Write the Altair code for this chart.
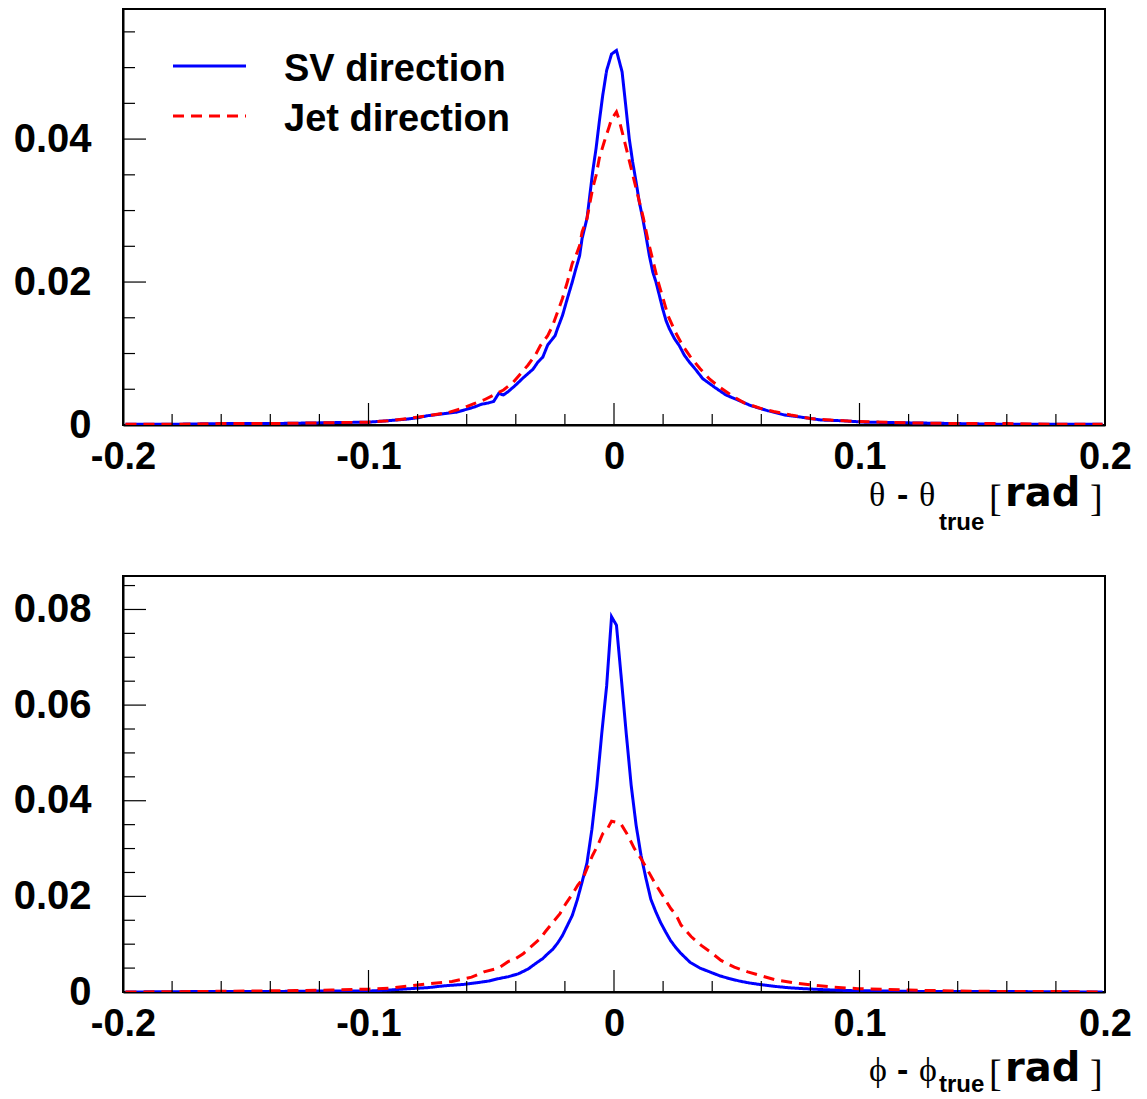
import altair as alt
import pandas as pd

SERIES = ["SV direction", "Jet direction"]
COLORS = ["#0000ff", "#ff0000"]
DASHES = [[1, 0], [11, 7]]

# (x, y), top panel (theta residual)
TOP_SV = [
    (-0.199, 0.0001), (-0.18, 0.0001), (-0.16, 0.0002), (-0.14, 0.0002), (-0.12, 0.0003),
    (-0.1, 0.0004), (-0.092, 0.0006), (-0.085, 0.0008), (-0.080, 0.0010), (-0.076, 0.0013),
    (-0.069, 0.0016), (-0.064, 0.0018), (-0.061, 0.0021), (-0.057, 0.0025), (-0.054, 0.0029),
    (-0.051, 0.0031), (-0.049, 0.0033), (-0.047, 0.0044), (-0.045, 0.0042), (-0.043, 0.0047),
    (-0.040, 0.0056), (-0.037, 0.0066), (-0.033, 0.0078), (-0.031, 0.0088), (-0.029, 0.0095),
    (-0.027, 0.0112), (-0.024, 0.0125), (-0.023, 0.0135), (-0.021, 0.0153), (-0.019, 0.0177),
    (-0.017, 0.0200), (-0.0155, 0.0219), (-0.014, 0.0237), (-0.013, 0.0261), (-0.011, 0.0289),
    (-0.010, 0.0317), (-0.0087, 0.0354), (-0.0073, 0.0387), (-0.006, 0.0424), (-0.0046, 0.0461),
    (-0.003, 0.0496), (-0.001, 0.0519), (0.001, 0.0524), (0.0033, 0.0494), (0.0049, 0.0443),
    (0.0062, 0.0401), (0.0076, 0.0368), (0.009, 0.0340), (0.0103, 0.0312), (0.0117, 0.0289),
    (0.013, 0.0265), (0.0144, 0.0237), (0.0158, 0.0214), (0.0171, 0.0200), (0.0185, 0.0181),
    (0.0198, 0.0163), (0.0212, 0.0146), (0.0225, 0.0135), (0.0246, 0.0121), (0.0266, 0.0111),
    (0.0286, 0.0098), (0.0307, 0.0088), (0.0334, 0.0077), (0.0361, 0.0065), (0.0409, 0.0053),
    (0.0456, 0.0042), (0.0504, 0.0035), (0.0558, 0.0027), (0.0626, 0.0020), (0.0694, 0.0014),
    (0.0762, 0.0011), (0.0843, 0.0007), (0.0925, 0.0006), (0.102, 0.0004), (0.12, 0.0003),
    (0.14, 0.0002), (0.16, 0.0001), (0.18, 0.0001), (0.199, 0.0001),
]
TOP_JET = [
    (-0.199, 0.0001), (-0.18, 0.0001), (-0.16, 0.0002), (-0.14, 0.0002), (-0.12, 0.0003),
    (-0.1, 0.0004), (-0.092, 0.0006), (-0.084, 0.0009), (-0.076, 0.0013), (-0.068, 0.0017),
    (-0.062, 0.0023), (-0.057, 0.0030), (-0.053, 0.0035), (-0.049, 0.0042), (-0.045, 0.0049),
    (-0.041, 0.0060), (-0.038, 0.0072), (-0.035, 0.0084), (-0.032, 0.0098), (-0.030, 0.0111),
    (-0.027, 0.0125), (-0.025, 0.0139), (-0.023, 0.0158), (-0.021, 0.0177), (-0.019, 0.0200),
    (-0.017, 0.0226), (-0.0155, 0.0237), (-0.014, 0.0251), (-0.013, 0.0270), (-0.011, 0.0289),
    (-0.010, 0.0307), (-0.0087, 0.0331), (-0.0073, 0.0349), (-0.006, 0.0373), (-0.004, 0.0396),
    (-0.002, 0.0417), (-0.001, 0.0428), (0.001, 0.0438), (0.002, 0.0428), (0.004, 0.0401),
    (0.006, 0.0373), (0.008, 0.0345), (0.010, 0.0317), (0.012, 0.0289), (0.014, 0.0256),
    (0.016, 0.0228), (0.018, 0.0200), (0.020, 0.0177), (0.022, 0.0153), (0.025, 0.0130),
    (0.028, 0.0111), (0.031, 0.0096), (0.035, 0.0079), (0.039, 0.0064), (0.043, 0.0053),
    (0.048, 0.0041), (0.053, 0.0031), (0.060, 0.0023), (0.065, 0.0019), (0.072, 0.0014),
    (0.080, 0.0009), (0.088, 0.0007), (0.098, 0.0005), (0.12, 0.0003), (0.14, 0.0002),
    (0.16, 0.0002), (0.18, 0.0001), (0.199, 0.0001),
]
# bottom panel (phi residual)
BOT_SV = [
    (-0.199, 0.0), (-0.17, 0.0001), (-0.14, 0.0001), (-0.12, 0.0002), (-0.10, 0.0002),
    (-0.092, 0.0004), (-0.083, 0.0007), (-0.076, 0.0009), (-0.069, 0.0013), (-0.061, 0.0016),
    (-0.055, 0.0020), (-0.051, 0.0023), (-0.047, 0.0028), (-0.043, 0.0032), (-0.039, 0.0038),
    (-0.035, 0.0048), (-0.031, 0.0063), (-0.029, 0.0070), (-0.027, 0.0080), (-0.025, 0.0089),
    (-0.023, 0.0102), (-0.021, 0.0118), (-0.019, 0.0139), (-0.017, 0.0160), (-0.015, 0.0192),
    (-0.013, 0.0230), (-0.011, 0.0270), (-0.009, 0.0340), (-0.007, 0.0430), (-0.005, 0.0540),
    (-0.003, 0.0640), (-0.001, 0.0785), (0.001, 0.0767), (0.003, 0.0655), (0.005, 0.0540),
    (0.007, 0.0432), (0.009, 0.0349), (0.011, 0.0286), (0.013, 0.0238), (0.015, 0.0194),
    (0.017, 0.0168), (0.019, 0.0145), (0.021, 0.0126), (0.023, 0.0108), (0.025, 0.0094),
    (0.027, 0.0082), (0.029, 0.0072), (0.031, 0.0062), (0.035, 0.0050), (0.039, 0.0042),
    (0.043, 0.0034), (0.047, 0.0028), (0.051, 0.0023), (0.055, 0.0019), (0.059, 0.0016),
    (0.065, 0.0012), (0.071, 0.0009), (0.077, 0.0007), (0.085, 0.0005), (0.095, 0.0003),
    (0.11, 0.0002), (0.13, 0.0001), (0.16, 0.0001), (0.199, 0.0),
]
BOT_JET = [
    (-0.199, 0.0), (-0.17, 0.0001), (-0.15, 0.0002), (-0.13, 0.0003), (-0.115, 0.0004),
    (-0.100, 0.0006), (-0.091, 0.0008), (-0.083, 0.0013), (-0.076, 0.0017), (-0.066, 0.0022),
    (-0.058, 0.0031), (-0.053, 0.0042), (-0.047, 0.0050), (-0.043, 0.0064), (-0.041, 0.0067),
    (-0.037, 0.0080), (-0.034, 0.0094), (-0.030, 0.0112), (-0.028, 0.0126), (-0.025, 0.0145),
    (-0.022, 0.0164), (-0.0196, 0.0185), (-0.0168, 0.0206), (-0.0148, 0.0223), (-0.0127, 0.0237),
    (-0.0107, 0.0262), (-0.0087, 0.0286), (-0.0066, 0.0307), (-0.0046, 0.0331), (-0.0026, 0.0342),
    (-0.001, 0.0357), (0.001, 0.0355), (0.003, 0.0350), (0.0056, 0.0328), (0.0083, 0.0300),
    (0.011, 0.0279), (0.0137, 0.0255), (0.0164, 0.0230), (0.0198, 0.0202), (0.0232, 0.0174),
    (0.0253, 0.0161), (0.0273, 0.0140), (0.0314, 0.0116), (0.0354, 0.0098), (0.0395, 0.0083),
    (0.0436, 0.0066), (0.049, 0.0052), (0.0545, 0.0042), (0.0592, 0.0035), (0.0653, 0.0026),
    (0.0734, 0.0019), (0.0816, 0.0014), (0.0897, 0.0010), (0.0993, 0.0007), (0.12, 0.0004),
    (0.14, 0.0002), (0.16, 0.0001), (0.18, 0.0001), (0.199, 0.0),
]

X_LABEL_VALUES = [-0.2, -0.1, 0.0, 0.1, 0.2]
X_MAJOR_TICKS = [-0.1, 0.0, 0.1]
X_MINOR_TICKS = [-0.18, -0.16, -0.14, -0.12, -0.08, -0.06, -0.04, -0.02,
                 0.02, 0.04, 0.06, 0.08, 0.12, 0.14, 0.16, 0.18]
TOP_Y_LABELS = [0, 0.02, 0.04]
TOP_Y_MAJOR = [0.02, 0.04]
TOP_Y_MINOR = [0.005, 0.01, 0.015, 0.025, 0.03, 0.035, 0.045, 0.05, 0.055]
BOT_Y_LABELS = [0, 0.02, 0.04, 0.06, 0.08]
BOT_Y_MAJOR = [0.02, 0.04, 0.06, 0.08]
BOT_Y_MINOR = [0.005, 0.01, 0.015, 0.025, 0.03, 0.035, 0.045, 0.05, 0.055,
               0.065, 0.07, 0.075, 0.085]

W, H = 982, 416
FONT = "Liberation Sans"
WIDE = "DejaVu Sans"
SERIF = "Liberation Serif"


def make_df(sv, jet):
    rows = [{"x": x, "y": y, "series": SERIES[0]} for x, y in sv]
    rows += [{"x": x, "y": y, "series": SERIES[1]} for x, y in jet]
    return pd.DataFrame(rows)


def panel(sv, jet, ymax, ylabels, ymajor, yminor, sym, base, sub, legend):
    xs = alt.Scale(domain=[-0.2, 0.2], nice=False, zero=False)
    ys = alt.Scale(domain=[0, ymax], nice=False, zero=False)
    ax_x = alt.Axis(values=X_LABEL_VALUES, ticks=False, domain=True, domainColor="black", domainWidth=2,
                    grid=False, title=None,
                    labelFont=FONT, labelFontSize=38, labelFontWeight="bold", labelColor="black",
                    labelPadding=13, labelFlush=False, labelOverlap=False,
                    labelExpr="datum.value == 0 ? '0' : (datum.value < 0 ? '-' : '') + format(abs(datum.value), '.1f')")
    ax_y = alt.Axis(values=ylabels, ticks=False, domain=True, domainColor="black", domainWidth=2,
                    grid=False, title=None,
                    labelFont=FONT, labelFontSize=40, labelFontWeight="bold", labelColor="black",
                    labelPadding=32, labelOverlap=False,
                    labelExpr="datum.value == 0 ? '0' : format(datum.value, '.2f')")
    X = alt.X("x:Q", scale=xs, axis=ax_x)
    Y = alt.Y("y:Q", scale=ys, axis=ax_y)

    lines = alt.Chart(make_df(sv, jet)).mark_line(strokeWidth=3, clip=True).encode(
        x=X, y=Y,
        color=alt.Color("series:N", scale=alt.Scale(domain=SERIES, range=COLORS), legend=None),
        strokeDash=alt.StrokeDash("series:N", scale=alt.Scale(domain=SERIES, range=DASHES), legend=None),
    )
    layers = [lines]
    layers.append(alt.Chart(pd.DataFrame({"x": X_MAJOR_TICKS})).mark_rule(color="black", strokeWidth=1.2)
                  .encode(x=X, y=alt.value(H), y2=alt.value(H - 22)))
    layers.append(alt.Chart(pd.DataFrame({"x": X_MINOR_TICKS})).mark_rule(color="black", strokeWidth=1.2)
                  .encode(x=X, y=alt.value(H), y2=alt.value(H - 11)))
    layers.append(alt.Chart(pd.DataFrame({"y": ymajor})).mark_rule(color="black", strokeWidth=1.2)
                  .encode(y=Y, x=alt.value(0), x2=alt.value(23)))
    layers.append(alt.Chart(pd.DataFrame({"y": yminor})).mark_rule(color="black", strokeWidth=1.2)
                  .encode(y=Y, x=alt.value(0), x2=alt.value(12)))

    if legend:
        for i, (name, color, dash) in enumerate(zip(SERIES, COLORS, DASHES)):
            d = pd.DataFrame({"s": [name]})
            layers.append(alt.Chart(d).mark_rule(strokeWidth=3, color=color, strokeDash=dash)
                          .encode(x=alt.value(50), x2=alt.value(123), y=alt.value(57 + 50 * i)))
            layers.append(alt.Chart(d).mark_text(font=FONT, fontSize=38, fontWeight="bold", align="left",
                                                 baseline="alphabetic", color="black")
                          .encode(text="s:N", x=alt.value(161), y=alt.value(72 + 50 * i)))

    pieces = [
        (sym, SERIF, "normal", 34, 746, base),
        ("-", FONT, "bold", 34, 774, base),
        (sym, SERIF, "normal", 34, 796, base),
        ("true", FONT, "bold", 24, 816, sub),
        ("[", SERIF, "normal", 38, 866, base + 5),
        ("rad", WIDE, "bold", 40, 882, base),
        ("]", SERIF, "normal", 38, 967, base + 5),
    ]
    for txt, font, weight, size, px, py in pieces:
        layers.append(alt.Chart(pd.DataFrame({"t": [txt]})).mark_text(
            font=font, fontSize=size, fontWeight=weight, align="left", baseline="alphabetic", color="black"
        ).encode(text="t:N", x=alt.value(px), y=alt.value(py)))

    return alt.layer(*layers).properties(
        width=W, height=H, view=alt.ViewBackground(stroke="black", strokeWidth=2)
    )


top = panel(TOP_SV, TOP_JET, 0.0582, TOP_Y_LABELS, TOP_Y_MAJOR, TOP_Y_MINOR, "θ", 497, 521, True)
bottom = panel(BOT_SV, BOT_JET, 0.087, BOT_Y_LABELS, BOT_Y_MAJOR, BOT_Y_MINOR, "ϕ", 505, 516, False)

chart = alt.vconcat(top, bottom, spacing=151, bounds="flush").properties(
    padding={"left": 4, "top": 0, "right": 5, "bottom": 0}
).configure_view(stroke="black", strokeWidth=2).configure(background="white")

chart.save("out.html", embed_options={"renderer": "svg", "actions": False})
